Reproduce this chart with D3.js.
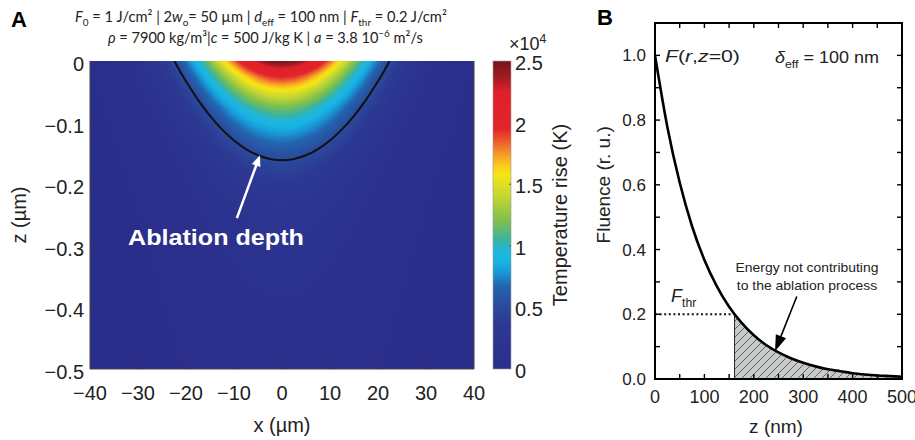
<!DOCTYPE html>
<html><head><meta charset="utf-8">
<script src="https://cdn.jsdelivr.net/npm/d3@7"></script>
<style>body{margin:0;background:#fff} svg{display:block} text{font-family:"Liberation Sans",Arial,sans-serif;fill:#222}</style>
</head><body><svg id="c" width="915" height="440"></svg>
<script>
// ---------------- data ----------------
// Panel A: relative surface temperature across x (µm), read from the map at z = 0
const xGrid = [-40,-37.5,-35,-32.5,-30,-27.5,-25,-22.5,-20,-17.5,-15,-12.5,-10,-7.5,-5,-2.5,0,2.5,5,7.5,10,12.5,15,17.5,20,22.5,25,27.5,30,32.5,35,37.5,40];
const surfaceProfile = [0.006,0.011,0.020,0.034,0.056,0.089,0.135,0.198,0.278,0.375,0.487,0.607,0.726,0.835,0.923,0.980,1.0,0.980,0.923,0.835,0.726,0.607,0.487,0.375,0.278,0.198,0.135,0.089,0.056,0.034,0.020,0.011,0.006];
// relative temperature versus depth (µm) at x = 0
const depthGrid = [0,0.025,0.05,0.075,0.1,0.125,0.15,0.175,0.2,0.225,0.25,0.275,0.3,0.325,0.35,0.375,0.4,0.425,0.45,0.475,0.5];
const depthProfile = [1.0,0.78,0.61,0.47,0.37,0.29,0.225,0.175,0.14,0.115,0.095,0.08,0.068,0.058,0.05,0.043,0.037,0.032,0.028,0.025,0.022];
const peakTemp = 2.53; // ×10^4 K
const cbTicks = [0,0.5,1,1.5,2,2.5];
const cbMax = 2.5;
const xTicksA = [-40,-30,-20,-10,0,10,20,30,40];
const zTicksA = [0,-0.1,-0.2,-0.3,-0.4,-0.5];
// ablation depth contour
const ablationX = [-22.4,-22,-21.5,-21,-20,-17.5,-15,-12.5,-10,-7.5,-5,-2.5,0,2.5,5,7.5,10,12.5,15,17.5,20,21,21.5,22,22.4];
const ablationZ = [0,-0.006,-0.013,-0.020,-0.033,-0.063,-0.089,-0.111,-0.129,-0.143,-0.153,-0.159,-0.161,-0.159,-0.153,-0.143,-0.129,-0.111,-0.089,-0.063,-0.033,-0.020,-0.013,-0.006,0];
// colour map
const cmapStops = [0,0.15,0.22,0.27,0.31,0.35,0.39,0.42,0.48,0.56,0.63,0.66,0.70,0.74,0.78,0.90,0.94,1];
const cmapColors = ["#2b2d8b","#2c3a94","#2a4fa0","#2166b0","#1a95d4","#17b4e5","#22b6d6","#3db39c","#7dbf4e","#c3d633","#f6e514","#f8cd1a","#f5962a","#ec5a2a","#e3242a","#e0202a","#a81c22","#74161a"];
// Panel B: fluence versus depth
const fluenceZ = [0,25,50,75,100,125,150,175,200,225,250,275,300,325,350,375,400,425,450,475,500];
const fluenceVal = [1.0,0.779,0.607,0.472,0.368,0.287,0.223,0.174,0.135,0.105,0.082,0.064,0.050,0.039,0.030,0.024,0.018,0.014,0.011,0.009,0.007];
const thrZ = 161, thrF = 0.2;
const xTicksB = [0,100,200,300,400,500];
const yTicksB = [0,0.2,0.4,0.6,0.8,1.0];
const xMinorB = [0,50,100,150,200,250,300,350,400,450,500];
const yMinorB = [0,0.1,0.2,0.3,0.4,0.5,0.6,0.7,0.8,0.9,1.0];

// ---------------- helpers ----------------
const svg = d3.select('#c');
function rich(g, x, y, segs, fs, anchor, family) {
  const t = g.append('text').attr('x', x).attr('y', y).attr('font-size', fs)
    .attr('text-anchor', anchor || 'start');
  if (family) t.style('font-family', family);
  let shift = 0;
  segs.forEach(([s, k]) => {
    const sp = t.append('tspan').text(s);
    let target = 0;
    if (k.includes('sub')) { target = fs * 0.28; sp.attr('font-size', fs * 0.68); }
    if (k.includes('sup')) { target = -fs * 0.38; sp.attr('font-size', fs * 0.68); }
    if (k.includes('i')) sp.attr('font-style', 'italic');
    sp.attr('dy', target - shift); shift = target;
  });
  return t;
}
function fit(t, w) {
  const bb = t.node().getBBox();
  const sx = w / bb.width;
  const cx = bb.x + bb.width / 2;
  const a = t.attr('text-anchor');
  const ox = a === 'middle' ? cx : bb.x;
  t.attr('transform', `translate(${ox},0) scale(${sx},1) translate(${-ox},0)`);
}
const fmtMinus = v => String(v).replace('-', '\u2212');

// ---------------- Panel A ----------------
const xA = d3.scaleLinear().domain([-40, 40]).range([90, 474]);
const zA = d3.scaleLinear().domain([0, -0.5]).range([61, 369]);
const sScale = d3.scaleLinear().domain(xGrid).range(surfaceProfile).clamp(true);
const dScale = d3.scaleLinear().domain(depthGrid).range(depthProfile).clamp(true);
const cmap = d3.scaleLinear().domain(cmapStops).range(cmapColors).interpolate(d3.interpolateRgb).clamp(true);

const W = 384, H = 308;
const cv = document.createElement('canvas'); cv.width = W; cv.height = H;
const ctx = cv.getContext('2d');
const img = ctx.createImageData(W, H);
const lut = d3.range(1025).map(i => d3.rgb(cmap(i / 1024)));
for (let j = 0; j < H; j++) {
  const z = zA.invert(61 + j + 0.5);
  const d = dScale(-z);
  for (let i = 0; i < W; i++) {
    const x = xA.invert(90 + i + 0.5);
    const v = sScale(x) * d * peakTemp / cbMax;
    const c = lut[Math.max(0, Math.min(1024, Math.round(v * 1024)))];
    const k = (j * W + i) * 4;
    img.data[k] = c.r; img.data[k + 1] = c.g; img.data[k + 2] = c.b; img.data[k + 3] = 255;
  }
}
ctx.putImageData(img, 0, 0);
const gA = svg.append('g');
gA.append('image').attr('x', xA(-40)).attr('y', zA(0)).attr('width', W).attr('height', H)
  .attr('preserveAspectRatio', 'none').attr('href', cv.toDataURL());
gA.append('clipPath').attr('id', 'clipA').append('rect')
  .attr('x', xA(-40)).attr('y', zA(0)).attr('width', W).attr('height', H);
gA.append('path').datum(ablationX.map((x, i) => [x, ablationZ[i]]))
  .attr('clip-path', 'url(#clipA)')
  .attr('d', d3.line().x(d => xA(d[0])).y(d => zA(d[1])).curve(d3.curveCatmullRom.alpha(0.5)))
  .attr('fill', 'none').attr('stroke', '#111').attr('stroke-width', 2);
// frame
gA.append('path').attr('d', `M${xA(-40)},${zA(0)}V${zA(-0.5)}H${xA(40)}V${zA(0)}`)
  .attr('fill', 'none').attr('stroke', '#444').attr('stroke-width', 1);
// ticks
gA.selectAll('.tz').data(zTicksA.slice(1, -1)).join('line')
  .attr('x1', xA(-40)).attr('x2', xA(-40) + 3).attr('y1', d => zA(d)).attr('y2', d => zA(d))
  .attr('stroke', '#333');
gA.selectAll('.tx').data(xTicksA.slice(1, -1)).join('line')
  .attr('x1', d => xA(d)).attr('x2', d => xA(d)).attr('y1', zA(-0.5)).attr('y2', zA(-0.5) - 3)
  .attr('stroke', '#333');
// tick labels
gA.selectAll('.lz').data(zTicksA).join('text')
  .attr('x', 84).attr('y', d => zA(d) + 10).attr('text-anchor', 'end').attr('font-size', 20)
  .text(d => fmtMinus(d));
gA.selectAll('.lx').data(xTicksA).join('text')
  .attr('x', d => xA(d)).attr('y', 400).attr('text-anchor', 'middle').attr('font-size', 20)
  .text(d => fmtMinus(d));
gA.append('text').attr('x', xA(0)).attr('y', 432).attr('text-anchor', 'middle').attr('font-size', 20).text('x (µm)');
gA.append('text').attr('transform', `translate(26,${zA(-0.25)}) rotate(-90)`)
  .attr('text-anchor', 'middle').attr('font-size', 20).text('z (µm)');
// annotation
const a0 = [xA(-9.4), zA(-0.255)], a1 = [xA(-4.6), zA(-0.153)];
function arrow(g, p0, p1, col, len, wid, sw) {
  const dx = p1[0] - p0[0], dy = p1[1] - p0[1], L = Math.hypot(dx, dy);
  const ux = dx / L, uy = dy / L;
  const bx = p1[0] - ux * len, by = p1[1] - uy * len;
  g.append('line').attr('x1', p0[0]).attr('y1', p0[1]).attr('x2', bx + ux * 2).attr('y2', by + uy * 2)
    .attr('stroke', col).attr('stroke-width', sw);
  g.append('path').attr('d', `M${p1[0]},${p1[1]}L${bx - uy * wid / 2},${by + ux * wid / 2}L${bx + uy * wid / 2},${by - ux * wid / 2}Z`)
    .attr('fill', col);
}
arrow(gA, a0, a1, '#fff', 11, 9, 2.5);
const abl = gA.append('text').attr('x', 128).attr('y', 245).attr('font-size', 23).attr('font-weight', 'bold')
  .style('fill', '#fff').text('Ablation depth');
fit(abl, 176);

// colour bar
const cbY = d3.scaleLinear().domain([0, cbMax]).range([369, 61]);
const grad = svg.append('defs').append('linearGradient').attr('id', 'cbg')
  .attr('x1', 0).attr('y1', 1).attr('x2', 0).attr('y2', 0);
grad.selectAll('stop').data(cmapStops).join('stop')
  .attr('offset', d => d).attr('stop-color', (d, i) => cmapColors[i]);
svg.append('rect').attr('x', 493).attr('y', cbY(cbMax)).attr('width', 18).attr('height', cbY(0) - cbY(cbMax))
  .attr('fill', 'url(#cbg)').attr('stroke', '#999').attr('stroke-width', 0.6);
svg.selectAll('.cbt').data(cbTicks.slice(1, -1)).join('line')
  .attr('x1', 511).attr('x2', 509).attr('y1', d => cbY(d)).attr('y2', d => cbY(d)).attr('stroke', '#555');
svg.selectAll('.cbl').data(cbTicks).join('text')
  .attr('x', 515).attr('y', d => cbY(d) + 9).attr('font-size', 20).text(d => d);
rich(svg, 509, 50, [['×10', ''], ['4', 'sup']], 18);
svg.append('text').attr('transform', `translate(567,${cbY(1.25)}) rotate(-90)`)
  .attr('text-anchor', 'middle').attr('font-size', 20).text('Temperature rise (K)');

// header
const h1 = rich(svg, 75, 22, [['F', 'i'], ['0', 'sub'], [' = 1 J/cm² | 2', ''], ['w', 'i'], ['o', 'sub'], ['= 50 µm | ', ''], ['d', 'i'], ['eff', 'sub'], [' = 100 nm  | ', ''], ['F', 'i'], ['thr', 'sub'], [' = 0.2 J/cm²', '']], 15, 'start', 'Lato');
fit(h1, 372);
const h2 = rich(svg, 108, 43, [['ρ', 'i'], [' = 7900 kg/m³|', ''], ['c', 'i'], [' = 500 J/kg K | ', ''], ['a', 'i'], [' = 3.8 10', ''], ['−6', 'sup'], [' m²/s', '']], 15, 'start', 'Lato');
fit(h2, 315);
svg.append('text').attr('x', 11).attr('y', 27).attr('font-size', 22).attr('font-weight', 'bold').style('fill', '#000').text('A');

// ---------------- Panel B ----------------
const xB = d3.scaleLinear().domain([0, 500]).range([655, 902]);
const yB = d3.scaleLinear().domain([0, 1.1]).range([379, 23]);
const gB = svg.append('g');
const defs = svg.select('defs');
const pat = defs.append('pattern').attr('id', 'hatch').attr('patternUnits', 'userSpaceOnUse')
  .attr('width', 8).attr('height', 8);
pat.append('rect').attr('width', 8).attr('height', 8).attr('fill', '#c7cbcb');
pat.append('path').attr('d', 'M-2,2L2,-2M0,8L8,0M6,10L10,6').attr('stroke', '#555').attr('stroke-width', 0.9);

const pts = fluenceZ.map((z, i) => [z, fluenceVal[i]]);
const areaPts = [[thrZ, thrF]].concat(pts.filter(d => d[0] > thrZ));
gB.append('path').datum(areaPts)
  .attr('d', d3.area().x(d => xB(d[0])).y0(yB(0)).y1(d => yB(d[1])).curve(d3.curveMonotoneX))
  .attr('fill', 'url(#hatch)');
gB.append('line').attr('x1', xB(thrZ)).attr('x2', xB(thrZ)).attr('y1', yB(thrF)).attr('y2', yB(0))
  .attr('stroke', '#222').attr('stroke-width', 1);
gB.append('line').attr('x1', xB(0)).attr('x2', xB(thrZ)).attr('y1', yB(thrF)).attr('y2', yB(thrF))
  .attr('stroke', '#111').attr('stroke-width', 2.2).attr('stroke-dasharray', '2,2.6');
gB.append('path').datum(pts)
  .attr('d', d3.line().x(d => xB(d[0])).y(d => yB(d[1])).curve(d3.curveMonotoneX))
  .attr('fill', 'none').attr('stroke', '#000').attr('stroke-width', 2.6);
// ticks (inward, all sides)
const tl = 5;
gB.selectAll('.tb').data(xMinorB).join('line')
  .attr('x1', d => xB(d)).attr('x2', d => xB(d)).attr('y1', yB(0)).attr('y2', yB(0) - tl).attr('stroke', '#000').attr('stroke-width', 1.4);
gB.selectAll('.tt').data(xMinorB).join('line')
  .attr('x1', d => xB(d)).attr('x2', d => xB(d)).attr('y1', yB(1.1)).attr('y2', yB(1.1) + tl).attr('stroke', '#000').attr('stroke-width', 1.4);
gB.selectAll('.tlft').data(yMinorB).join('line')
  .attr('x1', xB(0)).attr('x2', xB(0) + tl).attr('y1', d => yB(d)).attr('y2', d => yB(d)).attr('stroke', '#000').attr('stroke-width', 1.4);
gB.selectAll('.trt').data(yMinorB).join('line')
  .attr('x1', xB(500)).attr('x2', xB(500) - tl).attr('y1', d => yB(d)).attr('y2', d => yB(d)).attr('stroke', '#000').attr('stroke-width', 1.4);
gB.append('rect').attr('x', xB(0)).attr('y', yB(1.1)).attr('width', xB(500) - xB(0)).attr('height', yB(0) - yB(1.1))
  .attr('fill', 'none').attr('stroke', '#000').attr('stroke-width', 2);
// labels
gB.selectAll('.ly').data(yTicksB).join('text')
  .attr('x', 646).attr('y', d => yB(d) + 6).attr('text-anchor', 'end').attr('font-size', 17)
  .text(d => d.toFixed(1));
gB.selectAll('.lxb').data(xTicksB).join('text')
  .attr('x', d => xB(d)).attr('y', 403).attr('text-anchor', 'middle').attr('font-size', 18)
  .text(d => d);
gB.append('text').attr('x', xB(245)).attr('y', 433).attr('text-anchor', 'middle').attr('font-size', 19).text('z (nm)');
gB.append('text').attr('transform', `translate(610,${yB(0.6)}) rotate(-90)`)
  .attr('text-anchor', 'middle').attr('font-size', 19).text('Fluence (r. u.)');
const f0 = rich(gB, 665, 62, [['F', 'i'], ['(', ''], ['r', 'i'], [',', ''], ['z', 'i'], ['=0)', '']], 17);
fit(f0, 75);
const de = rich(gB, 775, 63, [['δ', 'i'], ['eff', 'sub'], [' = 100 nm', '']], 17);
fit(de, 104);
rich(gB, 671, 302, [['F', 'i'], ['thr', 'sub']], 18);
const e1 = gB.append('text').attr('x', 807).attr('y', 272).attr('text-anchor', 'middle').attr('font-size', 13).text('Energy not contributing');
fit(e1, 143);
const e2 = gB.append('text').attr('x', 807).attr('y', 290).attr('text-anchor', 'middle').attr('font-size', 13).text('to the ablation process');
fit(e2, 141);
arrow(gB, [xB(287), yB(0.255)], [xB(243), yB(0.086)], '#000', 16, 11, 1.6);
svg.append('text').attr('x', 597).attr('y', 25).attr('font-size', 22).attr('font-weight', 'bold').style('fill', '#000').text('B');
</script></body></html>
